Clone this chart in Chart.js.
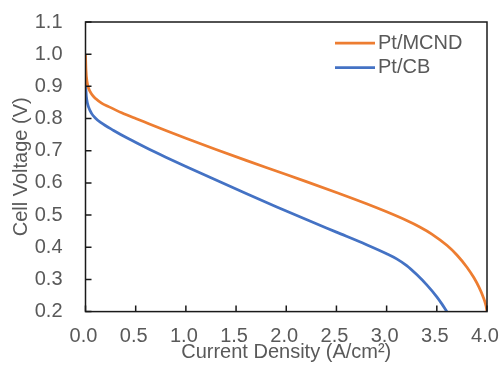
<!DOCTYPE html>
<html>
<head>
<meta charset="utf-8">
<script src="https://cdn.jsdelivr.net/npm/chart.js@4.4.0/dist/chart.umd.min.js"></script>
<style>
  html, body { margin: 0; padding: 0; background: #fff; overflow: hidden; }
  #wrap { width: 500px; height: 365px; }
</style>
</head>
<body>
<div id="wrap"><canvas id="chart" width="500" height="365"></canvas></div>
<script>
/* ---------- Datos ---------- */
const seriesNames = ['Pt/MCND', 'Pt/CB'];

const mcndCurrent = [0, 0.005, 0.015, 0.03, 0.06, 0.1, 0.16, 0.23, 0.36, 0.5, 0.63, 0.8, 1.0, 1.3, 1.6, 1.9, 2.2, 2.5, 2.8, 3.0, 3.2, 3.33, 3.45, 3.6, 3.7, 3.8, 3.87, 3.92, 3.96, 3.99, 4.0];
const mcndVoltage = [1.0, 0.95, 0.915, 0.895, 0.876, 0.862, 0.848, 0.837, 0.818, 0.8, 0.784, 0.763, 0.739, 0.704, 0.67, 0.637, 0.604, 0.57, 0.535, 0.51, 0.483, 0.463, 0.441, 0.406, 0.376, 0.338, 0.305, 0.276, 0.247, 0.218, 0.2];

const cbCurrent = [0, 0.005, 0.015, 0.03, 0.06, 0.1, 0.15, 0.28, 0.43, 0.6, 0.8, 1.0, 1.15, 1.3, 1.6, 1.9, 2.2, 2.5, 2.8, 3.0, 3.1, 3.2, 3.3, 3.4, 3.5, 3.55, 3.6];
const cbVoltage = [0.94, 0.885, 0.855, 0.836, 0.816, 0.801, 0.788, 0.763, 0.737, 0.71, 0.68, 0.651, 0.63, 0.609, 0.567, 0.526, 0.486, 0.447, 0.408, 0.38, 0.364, 0.343, 0.315, 0.283, 0.246, 0.224, 0.2];

const xTicks = { min: 0, max: 4, step: 0.5 };
const yTicks = { min: 0.2, max: 1.1, step: 0.1 };

/* ---------- Estilo ---------- */
const COLORS = { mcnd: '#ED7D31', cb: '#4472C4', text: '#595959', axis: '#1a1a1a' };
const FONT = "'Liberation Sans', Arial, sans-serif";

const toPoints = (xs, ys) => xs.map((x, i) => ({ x, y: ys[i] }));

/* ---------- Marco y marcas hacia dentro ---------- */
const framePlugin = {
  id: 'frame',
  afterDatasetsDraw(chart) {
    const { ctx, chartArea: a, scales } = chart;
    ctx.save();
    ctx.strokeStyle = COLORS.axis;
    ctx.lineWidth = 1.5;
    ctx.strokeRect(a.left, a.top, a.right - a.left, a.bottom - a.top);
    ctx.beginPath();
    scales.x.ticks.forEach(t => {
      const px = scales.x.getPixelForValue(t.value);
      ctx.moveTo(px, a.bottom);
      ctx.lineTo(px, a.bottom - 6);
    });
    scales.y.ticks.forEach(t => {
      const py = scales.y.getPixelForValue(t.value);
      ctx.moveTo(a.left, py);
      ctx.lineTo(a.left + 6, py);
    });
    ctx.stroke();
    ctx.restore();
  }
};

/* ---------- Leyenda dentro del área ---------- */
const legendPlugin = {
  id: 'insideLegend',
  afterDraw(chart) {
    const { ctx, chartArea: a } = chart;
    ctx.save();
    ctx.font = '20px ' + FONT;
    ctx.textBaseline = 'middle';
    ctx.textAlign = 'left';
    chart.data.datasets.forEach((ds, i) => {
      const y = a.top + 21 + i * 24.5;
      const x0 = a.right - 152;
      ctx.strokeStyle = ds.borderColor;
      ctx.lineWidth = 2.75;
      ctx.beginPath();
      ctx.moveTo(x0, y);
      ctx.lineTo(x0 + 40, y);
      ctx.stroke();
      ctx.fillStyle = COLORS.text;
      ctx.fillText(ds.label, x0 + 43, y);
    });
    ctx.restore();
  }
};

new Chart(document.getElementById('chart'), {
  type: 'line',
  data: {
    datasets: [
      {
        label: seriesNames[0],
        data: toPoints(mcndCurrent, mcndVoltage),
        borderColor: COLORS.mcnd,
        borderWidth: 2.75,
        pointRadius: 0,
        cubicInterpolationMode: 'monotone',
        fill: false
      },
      {
        label: seriesNames[1],
        data: toPoints(cbCurrent, cbVoltage),
        borderColor: COLORS.cb,
        borderWidth: 2.75,
        pointRadius: 0,
        cubicInterpolationMode: 'monotone',
        fill: false
      }
    ]
  },
  options: {
    responsive: false,
    animation: false,
    devicePixelRatio: 1,
    layout: { padding: { left: 0, right: 13, top: 22, bottom: 0 } },
    plugins: { legend: { display: false }, tooltip: { enabled: false } },
    scales: {
      x: {
        type: 'linear',
        min: xTicks.min, max: xTicks.max,
        grid: { display: false, drawTicks: false },
        border: { display: false },
        ticks: {
          stepSize: xTicks.step,
          color: COLORS.text,
          font: { family: FONT, size: 20 },
          padding: 13,
          labelOffset: -2,
          maxRotation: 0,
          callback: v => v.toFixed(1)
        },
        title: {
          display: true,
          text: 'Current Density (A/cm²)',
          color: COLORS.text,
          font: { family: FONT, size: 20 },
          padding: { top: 0, bottom: 1 }
        },
        // tamaño fijo y sin margen extra por las etiquetas
        afterFit: s => { s.height = 53.4; s.paddingLeft = 0; s.paddingRight = 0; }
      },
      y: {
        min: yTicks.min, max: yTicks.max,
        grid: { display: false, drawTicks: false },
        border: { display: false },
        ticks: {
          stepSize: yTicks.step,
          color: COLORS.text,
          font: { family: FONT, size: 20 },
          padding: 23,
          callback: v => v.toFixed(1)
        },
        title: {
          display: true,
          text: 'Cell Voltage (V)',
          color: COLORS.text,
          font: { family: FONT, size: 20 },
          padding: { top: 9, bottom: 0 }
        },
        afterFit: s => { s.width = 85.5; s.paddingTop = 0; s.paddingBottom = 0; }
      }
    }
  },
  plugins: [framePlugin, legendPlugin]
});
</script>
</body>
</html>
